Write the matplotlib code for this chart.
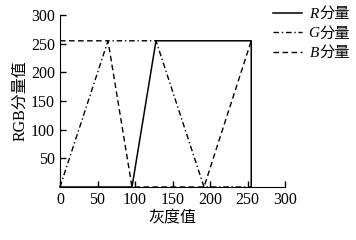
import matplotlib
matplotlib.use('Agg')
import matplotlib.pyplot as plt

plt.rcParams['font.family'] = ['Liberation Serif', 'Noto Sans CJK SC']

# piecewise components (gray level -> value)
r_x = [0, 96, 128, 255, 255]
r_y = [0, 0, 255, 255, 0]
g_x = [0, 64, 128, 192, 255]
g_y = [0, 255, 255, 0, 0]
b_x = [0, 64, 96, 192, 255]
b_y = [255, 255, 0, 0, 255]

names = ['R', 'G', 'B']
xticks = [0, 50, 100, 150, 200, 250, 300]
yticks = [50, 100, 150, 200, 250, 300]

fig = plt.figure(figsize=(3.56, 2.4), dpi=100)
ax = fig.add_axes([60/356, 53/240, 225/356, 172/240])

ax.plot(r_x, r_y, color='black', lw=1.1, ls='-', label='分量', clip_on=False)
ax.plot(g_x, g_y, color='black', lw=1.0, ls=(0, (4, 2, 1, 2)), label='分量', clip_on=False)
ax.plot(b_x, b_y, color='black', lw=1.0, ls=(0, (4, 2.5)), label='分量', clip_on=False)

ax.set_xlim(0, 300)
ax.set_ylim(0, 300)
ax.set_xticks(xticks)
ax.set_yticks(yticks)
ax.tick_params(direction='in', length=4, labelsize=11.5, width=1)
ax.spines['top'].set_visible(False)
ax.spines['right'].set_visible(False)
ax.set_xlabel('灰度值', fontsize=11.5, labelpad=2)
ax.set_ylabel('RGB分量值', fontsize=11.5, labelpad=2)

leg = ax.legend(loc='upper left', bbox_to_anchor=(0.92, 1.08), frameon=False,
                fontsize=11, handlelength=1.9, handletextpad=1.1, labelspacing=0.38,
                borderaxespad=0)

# italic letter in front of each legend label
fig.canvas.draw()
W, H = fig.canvas.get_width_height()
for t, n in zip(leg.get_texts(), names):
    bb = t.get_window_extent()
    fig.text(bb.x0 / W, (bb.y0 + bb.y1) / 2 / H, n, ha='right', va='center',
             style='italic', fontsize=11, family='Liberation Serif')

fig.savefig('out.png', dpi=100)
